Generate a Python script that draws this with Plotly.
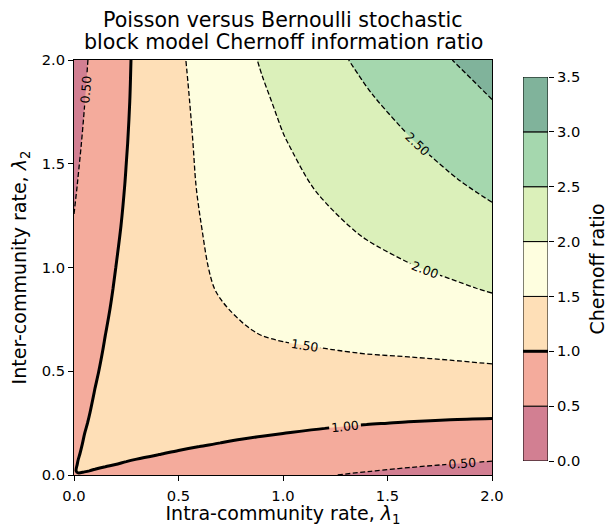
import plotly.graph_objects as go

# grid of intra-community (lambda1, columns) and inter-community (lambda2, rows) rates
lam1 = [0, 0.02, 0.05, 0.1, 0.15, 0.2, 0.25, 0.3, 0.4, 0.5, 0.6, 0.7, 0.8, 0.9, 1.0, 1.2, 1.4, 1.6, 1.8, 2.0]
lam2 = [0, 0.02, 0.05, 0.1, 0.15, 0.2, 0.25, 0.3, 0.4, 0.5, 0.6, 0.7, 0.8, 0.9, 1.0, 1.2, 1.4, 1.6, 1.8, 2.0]

# Chernoff ratio values read on that grid (rows: lambda2, columns: lambda1)
ratio = [
    [0.999, 0.990, 0.975, 0.951, 0.927, 0.903, 0.880, 0.857, 0.813, 0.771, 0.730, 0.691, 0.653, 0.617, 0.582, 0.517, 0.458, 0.405, 0.356, 0.313],
    [0.990, 1.010, 1.008, 0.991, 0.970, 0.948, 0.926, 0.904, 0.861, 0.819, 0.779, 0.740, 0.703, 0.667, 0.633, 0.569, 0.511, 0.459, 0.413, 0.371],
    [0.975, 1.008, 1.025, 1.026, 1.015, 0.999, 0.981, 0.962, 0.922, 0.883, 0.845, 0.808, 0.772, 0.737, 0.705, 0.643, 0.588, 0.538, 0.494, 0.455],
    [0.951, 0.991, 1.026, 1.052, 1.058, 1.054, 1.046, 1.034, 1.005, 0.973, 0.940, 0.907, 0.875, 0.844, 0.814, 0.758, 0.707, 0.662, 0.623, 0.590],
    [0.927, 0.970, 1.015, 1.058, 1.079, 1.088, 1.089, 1.085, 1.069, 1.046, 1.020, 0.993, 0.965, 0.938, 0.912, 0.862, 0.817, 0.778, 0.744, 0.717],
    [0.903, 0.948, 0.999, 1.054, 1.088, 1.107, 1.117, 1.122, 1.118, 1.105, 1.087, 1.066, 1.044, 1.022, 1.000, 0.957, 0.919, 0.886, 0.859, 0.837],
    [0.880, 0.926, 0.981, 1.046, 1.089, 1.117, 1.136, 1.148, 1.157, 1.154, 1.144, 1.130, 1.114, 1.097, 1.079, 1.044, 1.013, 0.987, 0.966, 0.951],
    [0.857, 0.904, 0.962, 1.034, 1.085, 1.122, 1.148, 1.166, 1.187, 1.194, 1.192, 1.186, 1.175, 1.163, 1.151, 1.125, 1.101, 1.082, 1.067, 1.059],
    [0.813, 0.861, 0.922, 1.005, 1.069, 1.118, 1.157, 1.187, 1.230, 1.255, 1.270, 1.277, 1.279, 1.278, 1.275, 1.267, 1.259, 1.254, 1.254, 1.260],
    [0.771, 0.819, 0.883, 0.973, 1.046, 1.105, 1.154, 1.194, 1.255, 1.30, 1.33, 1.35, 1.36, 1.37, 1.38, 1.39, 1.40, 1.41, 1.42, 1.44],
    [0.730, 0.779, 0.845, 0.940, 1.020, 1.087, 1.144, 1.192, 1.270, 1.33, 1.37, 1.40, 1.43, 1.45, 1.47, 1.49, 1.52, 1.54, 1.57, 1.61],
    [0.691, 0.740, 0.808, 0.907, 0.993, 1.066, 1.130, 1.186, 1.277, 1.35, 1.40, 1.45, 1.48, 1.52, 1.54, 1.59, 1.63, 1.67, 1.71, 1.76],
    [0.653, 0.703, 0.772, 0.875, 0.965, 1.044, 1.114, 1.175, 1.279, 1.36, 1.43, 1.48, 1.53, 1.57, 1.61, 1.67, 1.72, 1.78, 1.84, 1.90],
    [0.617, 0.667, 0.737, 0.844, 0.938, 1.022, 1.097, 1.163, 1.278, 1.37, 1.45, 1.52, 1.57, 1.62, 1.67, 1.74, 1.81, 1.88, 1.95, 2.03],
    [0.582, 0.633, 0.705, 0.814, 0.912, 1.000, 1.079, 1.151, 1.275, 1.38, 1.47, 1.54, 1.61, 1.67, 1.72, 1.81, 1.90, 1.98, 2.06, 2.15],
    [0.517, 0.569, 0.643, 0.758, 0.862, 0.957, 1.044, 1.125, 1.267, 1.39, 1.49, 1.59, 1.67, 1.74, 1.81, 1.93, 2.05, 2.15, 2.26, 2.38],
    [0.458, 0.511, 0.588, 0.707, 0.817, 0.919, 1.013, 1.101, 1.259, 1.40, 1.52, 1.63, 1.72, 1.81, 1.90, 2.05, 2.18, 2.31, 2.45, 2.59],
    [0.405, 0.459, 0.538, 0.662, 0.778, 0.886, 0.987, 1.082, 1.254, 1.41, 1.54, 1.67, 1.78, 1.88, 1.98, 2.15, 2.31, 2.47, 2.63, 2.79],
    [0.356, 0.413, 0.494, 0.623, 0.744, 0.859, 0.966, 1.067, 1.254, 1.42, 1.57, 1.71, 1.84, 1.95, 2.06, 2.26, 2.45, 2.63, 2.81, 2.99],
    [0.313, 0.371, 0.455, 0.590, 0.717, 0.837, 0.951, 1.059, 1.260, 1.44, 1.61, 1.76, 1.90, 2.03, 2.15, 2.38, 2.59, 2.79, 2.99, 3.19],
]

levels = [0.0, 0.5, 1.0, 1.5, 2.0, 2.5, 3.0, 3.5]
band_colors = ['#d27f92', '#f4ab9c', '#fedfb7', '#fefedf', '#dbf0ba', '#a5d7ae', '#80b39b']
axis_ticks = [0, 0.5, 1.0, 1.5, 2.0]
title_lines = ['Poisson versus Bernoulli stochastic', 'block model Chernoff information ratio']

n = len(band_colors)
cs = []
for i, c in enumerate(band_colors):
    lo = max(0.0, (i - 0.5) / (n - 1))
    hi = min(1.0, (i + 0.5) / (n - 1))
    cs.append([lo, c]); cs.append([hi, c])

FONT = 'DejaVu Sans'
DASH = '5px,2.5px'
fig = go.Figure()
fig.add_trace(go.Contour(x=lam1, y=lam2, z=ratio, autocontour=False, zmin=0, zmax=3.5,
    contours=dict(start=0.5, end=3.0, size=0.5, coloring='fill', showlines=False),
    colorscale=cs, showscale=False, line=dict(width=0, smoothing=1), hoverinfo='skip'))
lab = dict(size=12.4, color='black', family=FONT)
fig.add_trace(go.Contour(x=lam1, y=lam2, z=ratio, autocontour=False, showscale=False,
    contours=dict(start=0.5, end=0.5, size=0.5, coloring='none', showlabels=True, labelfont=lab, labelformat='.2f'),
    line=dict(color='black', width=1.3, dash=DASH, smoothing=1), hoverinfo='skip'))
fig.add_trace(go.Contour(x=lam1, y=lam2, z=ratio, autocontour=False, showscale=False,
    contours=dict(start=1.5, end=3.0, size=0.5, coloring='none', showlabels=True, labelfont=lab, labelformat='.2f'),
    line=dict(color='black', width=1.3, dash=DASH, smoothing=1), hoverinfo='skip'))
fig.add_trace(go.Contour(x=lam1, y=lam2, z=ratio, autocontour=False, showscale=False,
    contours=dict(start=1.0, end=1.0, size=0.5, coloring='none', showlabels=True, labelfont=lab, labelformat='.2f'),
    line=dict(color='black', width=3, smoothing=0.9), hoverinfo='skip'))

# colorbar drawn as a stacked bar on its own axes
fig.add_trace(go.Bar(x=[0] * n, y=[levels[i + 1] - levels[i] for i in range(n)], base=levels[:-1],
    width=1, marker=dict(color=band_colors, line=dict(color='black', width=1)),
    xaxis='x2', yaxis='y2', showlegend=False, hoverinfo='skip'))
fig.add_trace(go.Scatter(x=[-0.5, 0.5], y=[levels[2], levels[2]], mode='lines', line=dict(color='black', width=3),
    xaxis='x2', yaxis='y2', showlegend=False, hoverinfo='skip'))

axcommon = dict(range=[0, 2], tickvals=axis_ticks, ticktext=['%.1f' % t for t in axis_ticks], ticks='outside',
    ticklen=5, tickwidth=1, tickcolor='black', showline=True, linecolor='black', linewidth=1,
    mirror=True, showgrid=False, zeroline=False,
    tickfont=dict(size=14.7, family=FONT, color='black'))
fig.update_layout(
    width=608, height=527, margin=dict(l=0, r=0, t=0, b=0, autoexpand=False),
    paper_bgcolor='white', plot_bgcolor='white', showlegend=False,
    font=dict(family=FONT, color='black'),
    annotations=[
        dict(text=title_lines[0], x=283 / 608, y=1 - 20 / 527, xref='paper', yref='paper',
             xanchor='center', yanchor='middle', showarrow=False, font=dict(size=20.6, family=FONT)),
        dict(text=title_lines[1], x=283 / 608, y=1 - 42 / 527, xref='paper', yref='paper',
             xanchor='center', yanchor='middle', showarrow=False, font=dict(size=20.6, family=FONT)),
    ],
    xaxis=dict(domain=[74 / 608, 492 / 608], anchor='y', ticklabelstandoff=2, automargin=True,
        title=dict(text='Intra-community rate, <i>λ</i><sub>1</sub>', font=dict(size=19), standoff=6), **axcommon),
    yaxis=dict(domain=[52 / 527, 467 / 527], anchor='x', automargin=False,
        title=dict(text='Inter-community rate, <i>λ</i><sub>2</sub>', font=dict(size=19), standoff=10), **axcommon),
    xaxis2=dict(domain=[523 / 608, 548 / 608], range=[-0.5, 0.5], visible=False, anchor='y2', automargin=False),
    yaxis2=dict(domain=[66 / 527, 450 / 527], anchor='x2', side='right', range=[0, 3.5],
        tickvals=levels, ticktext=['%.1f' % v for v in levels], ticks='outside', ticklen=5,
        tickcolor='black', showgrid=False, zeroline=False, showline=False, automargin=False,
        tickfont=dict(size=14.7, family=FONT, color='black'),
        title=dict(text='Chernoff ratio', font=dict(size=19), standoff=12)),
)
fig.write_html('out.html')
